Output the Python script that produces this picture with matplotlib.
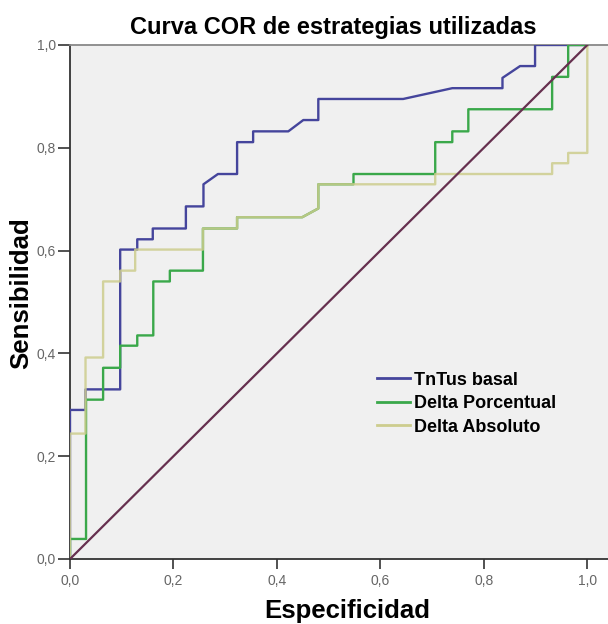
import matplotlib
matplotlib.use("Agg")
import matplotlib.pyplot as plt
from matplotlib.ticker import FuncFormatter

plt.rcParams['font.family'] = ['Liberation Sans', 'DejaVu Sans']

title = "Curva COR de estrategias utilizadas"
xlabel = "Especificidad"
ylabel = "Sensibilidad"
tick_values = [0.0, 0.2, 0.4, 0.6, 0.8, 1.0]
series_names = ["TnTus basal", "Delta Porcentual", "Delta Absoluto"]

tntus_x = [0, 0, 0.03, 0.03, 0.097, 0.097, 0.13, 0.13, 0.16, 0.16, 0.224, 0.224,
           0.258, 0.258, 0.286, 0.323, 0.323, 0.354, 0.354, 0.422, 0.451, 0.48,
           0.48, 0.644, 0.739, 0.836, 0.836, 0.870, 0.899, 0.899, 1.0]
tntus_y = [0, 0.29, 0.29, 0.33, 0.33, 0.602, 0.602, 0.622, 0.622, 0.643, 0.643, 0.686,
           0.686, 0.729, 0.749, 0.749, 0.811, 0.811, 0.832, 0.832, 0.854, 0.854,
           0.895, 0.895, 0.916, 0.916, 0.936, 0.959, 0.959, 1.0, 1.0]

pct_x = [0, 0, 0.031, 0.031, 0.064, 0.064, 0.097, 0.097, 0.13, 0.13, 0.161, 0.161,
         0.193, 0.193, 0.257, 0.257, 0.323, 0.323, 0.449, 0.48, 0.48, 0.548, 0.548,
         0.706, 0.706, 0.739, 0.739, 0.77, 0.77, 0.932, 0.932, 0.963, 0.963, 1.0]
pct_y = [0, 0.039, 0.039, 0.31, 0.31, 0.372, 0.372, 0.415, 0.415, 0.435, 0.435, 0.54,
         0.54, 0.561, 0.561, 0.643, 0.643, 0.665, 0.665, 0.682, 0.729, 0.729, 0.749,
         0.749, 0.811, 0.811, 0.832, 0.832, 0.875, 0.875, 0.938, 0.938, 1.0, 1.0]

abs_x = [0, 0, 0.03, 0.03, 0.064, 0.064, 0.097, 0.097, 0.126, 0.126, 0.257, 0.257,
         0.323, 0.323, 0.449, 0.48, 0.48, 0.706, 0.706, 0.932, 0.932, 0.963, 0.963,
         1.0, 1.0]
abs_y = [0, 0.244, 0.244, 0.392, 0.392, 0.54, 0.54, 0.561, 0.561, 0.602, 0.602, 0.643,
         0.643, 0.665, 0.665, 0.682, 0.729, 0.729, 0.749, 0.749, 0.77, 0.77, 0.79,
         0.79, 1.0]

ref_x = [0, 1]
ref_y = [0, 1]

fig = plt.figure(figsize=(6.08, 6.24), dpi=100)
ax = fig.add_axes([70/608, 65/624, 538/608, 514/624])
ax.set_facecolor('#f0f0f0')

ax.plot(tntus_x, tntus_y, color='#45459c', lw=1.7, label=series_names[0], zorder=3)
ax.plot(pct_x, pct_y, color='#3aa84a', lw=1.7, label=series_names[1], zorder=3)
ax.plot(abs_x, abs_y, color='#cdcd8e', lw=1.7, alpha=0.85, label=series_names[2], zorder=4)
ax.plot(ref_x, ref_y, color='#66304f', lw=1.6, zorder=5)

ax.set_xlim(0, 1.04)
ax.set_ylim(0, 1.0)
ax.set_xticks(tick_values)
ax.set_yticks(tick_values)
fmt = FuncFormatter(lambda v, p: f"{v:.1f}".replace('.', ','))
ax.xaxis.set_major_formatter(fmt)
ax.yaxis.set_major_formatter(fmt)
ax.tick_params(axis='both', direction='out', width=1.2, color='#333333',
               labelsize=10, labelcolor='#666666')
ax.tick_params(axis='x', length=7, pad=4)
ax.tick_params(axis='y', length=9, pad=1)

for s in ['left', 'bottom']:
    ax.spines[s].set_color('#333333')
    ax.spines[s].set_linewidth(1.3)
ax.spines['top'].set_color('#888888')
ax.spines['top'].set_linewidth(1.3)
ax.spines['right'].set_visible(False)

ax.set_title(title, fontsize=17, fontweight='bold', x=0.489, y=1.022, pad=0)
ax.set_xlabel(xlabel, fontsize=18.5, fontweight='bold')
ax.set_ylabel(ylabel, fontsize=18.5, fontweight='bold')
ax.xaxis.set_label_coords(0.515, -0.077)
ax.yaxis.set_label_coords(-0.068, 0.517)

leg = ax.legend(loc='center left', bbox_to_anchor=(0.571, 0.302), frameon=False,
                prop={'weight': 'bold', 'size': 13}, handlelength=1.83,
                handletextpad=0.22, labelspacing=0.36, borderpad=0, borderaxespad=0)
for line in leg.get_lines():
    line.set_linewidth(2)
    line.set_alpha(1)

fig.savefig('out.png', dpi=100, facecolor='white')
